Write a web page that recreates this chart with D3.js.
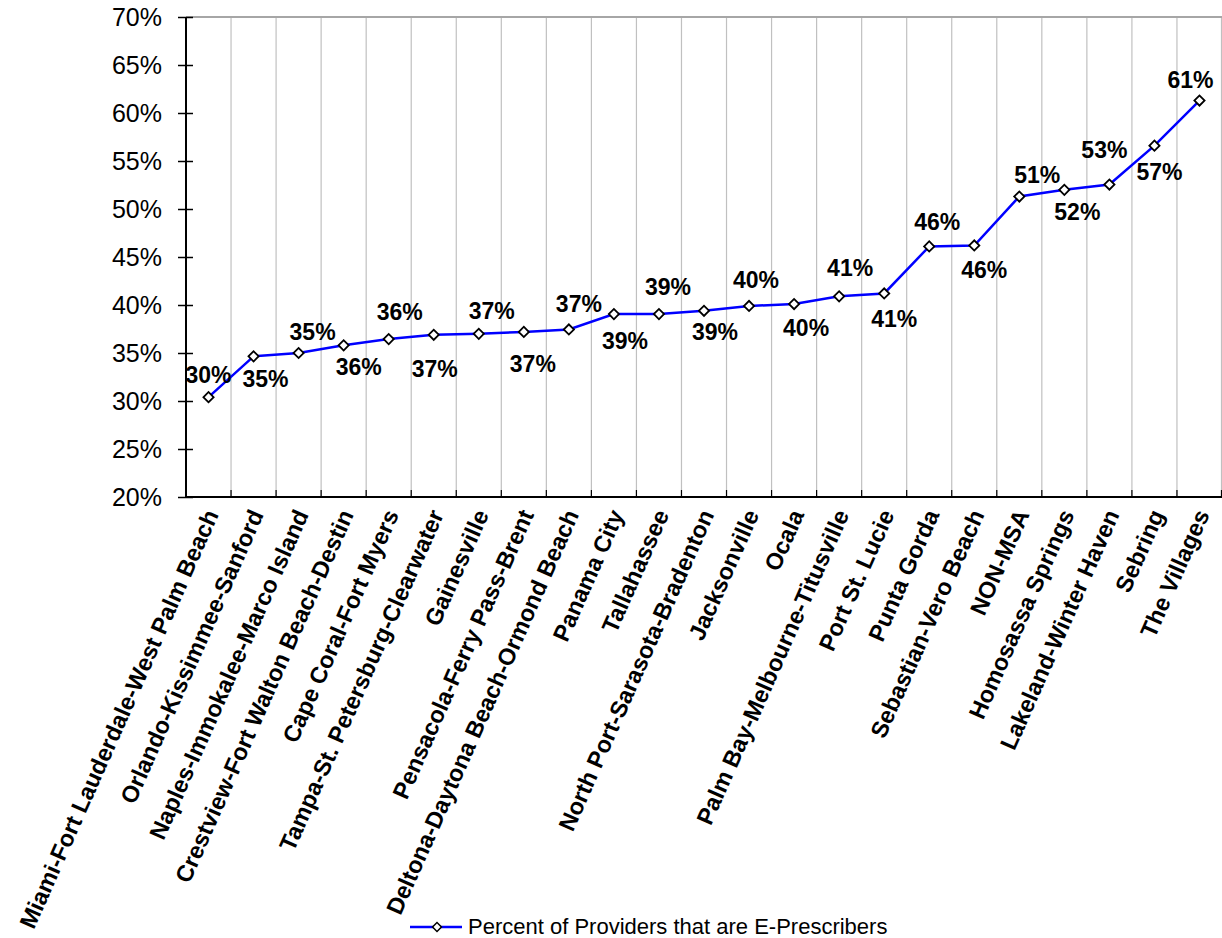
<!DOCTYPE html>
<html>
<head>
<meta charset="utf-8">
<script src="https://cdn.jsdelivr.net/npm/d3@7"></script>
<style>
  body { margin: 0; background: #fff; }
  svg { display: block; }
</style>
</head>
<body>
<svg id="chart" width="1222" height="938"></svg>
<script>
// Metro areas, ordered by share of providers who e-prescribe
const categories = [
  "Miami-Fort Lauderdale-West Palm Beach",
  "Orlando-Kissimmee-Sanford",
  "Naples-Immokalee-Marco Island",
  "Crestview-Fort Walton Beach-Destin",
  "Cape Coral-Fort Myers",
  "Tampa-St. Petersburg-Clearwater",
  "Gainesville",
  "Pensacola-Ferry Pass-Brent",
  "Deltona-Daytona Beach-Ormond Beach",
  "Panama City",
  "Tallahassee",
  "North Port-Sarasota-Bradenton",
  "Jacksonville",
  "Ocala",
  "Palm Bay-Melbourne-Titusville",
  "Port St. Lucie",
  "Punta Gorda",
  "Sebastian-Vero Beach",
  "NON-MSA",
  "Homosassa Springs",
  "Lakeland-Winter Haven",
  "Sebring",
  "The Villages"
];

// Percent of providers that are e-prescribers
const ePrescriberPct = [
  30.4, 34.65, 35.0, 35.8, 36.45, 36.9, 37.0, 37.2, 37.45,
  39.05, 39.05, 39.4, 39.9, 40.1, 40.9, 41.2,
  46.1, 46.2, 51.3, 52.0, 52.55, 56.6, 61.3
];

const yTicks = [20, 25, 30, 35, 40, 45, 50, 55, 60, 65, 70];
const seriesName = "Percent of Providers that are E-Prescribers";

// Hand-placed data label offsets (label centre relative to its marker)
const labelOffsets = [
  [0, -22], [12, 22], [14, -21], [15, 21], [11, -27], [1, 34], [13, -23],
  [9, 32], [10, -26], [11, 27], [9, -27], [11, 21], [7, -26], [12, 24],
  [11, -29], [10, 25], [8, -25], [10, 24], [18, -22], [13, 22], [-5, -35],
  [5, 26], [-9, -21]
];

const svg = d3.select("#chart");
const plot = { left: 186, right: 1222, top: 17, bottom: 497 };
const font = "Arial, 'Liberation Sans', sans-serif";

const x = d3.scaleBand()
  .domain(categories)
  .range([plot.left, plot.right])
  .paddingInner(0)
  .paddingOuter(0);

const y = d3.scaleLinear()
  .domain([20, 70])
  .range([plot.bottom, plot.top]);

const bw = x.bandwidth();
const cx = d => x(d) + bw / 2;

// Vertical gridlines on category boundaries
const boundaries = categories.slice(1).map(c => x(c)).concat([plot.right - 0.5]);
svg.append("g")
  .selectAll("line")
  .data(boundaries)
  .join("line")
  .attr("x1", d => d).attr("x2", d => d)
  .attr("y1", plot.top).attr("y2", plot.bottom)
  .attr("stroke", "#c0c0c0")
  .attr("stroke-width", 1.2);

// Top border of plot area
svg.append("line")
  .attr("x1", plot.left).attr("x2", plot.right)
  .attr("y1", plot.top).attr("y2", plot.top)
  .attr("stroke", "#a6a6a6")
  .attr("stroke-width", 2);

// Bottom axis ticks (pointing up into the plot)
svg.append("g")
  .selectAll("line")
  .data(boundaries)
  .join("line")
  .attr("x1", d => d).attr("x2", d => d)
  .attr("y1", plot.bottom - 7).attr("y2", plot.bottom)
  .attr("stroke", "#000")
  .attr("stroke-width", 1.2);

// Y axis
const yAxis = d3.axisLeft(y)
  .tickValues(yTicks)
  .tickFormat(d => d + "%")
  .tickSize(8)
  .tickPadding(16);

const yg = svg.append("g")
  .attr("transform", `translate(${plot.left},0)`)
  .call(yAxis);
yg.select(".domain").remove();
yg.selectAll(".tick line").attr("stroke", "#000").attr("stroke-width", 1.5);
yg.selectAll(".tick").append("line")
  .attr("x1", 0).attr("x2", 7)
  .attr("stroke", "#000").attr("stroke-width", 1.5);
yg.selectAll(".tick text")
  .attr("font-family", font)
  .attr("font-size", 25)
  .attr("fill", "#000");

svg.append("line")
  .attr("x1", plot.left).attr("x2", plot.left)
  .attr("y1", plot.top).attr("y2", plot.bottom + 1)
  .attr("stroke", "#000").attr("stroke-width", 2);

svg.append("line")
  .attr("x1", plot.left).attr("x2", plot.right)
  .attr("y1", plot.bottom).attr("y2", plot.bottom)
  .attr("stroke", "#000").attr("stroke-width", 2);

// Category labels, rotated
svg.append("g")
  .selectAll("text")
  .data(categories)
  .join("text")
  .attr("transform", d => `translate(${cx(d) + 3},511) rotate(-66)`)
  .attr("text-anchor", "end")
  .attr("dy", "0.35em")
  .attr("font-family", font)
  .attr("font-weight", "bold")
  .attr("font-size", 23.5)
  .attr("fill", "#000")
  .text(d => d);

// Series line
const line = d3.line()
  .x((d, i) => cx(categories[i]))
  .y(d => y(d));

svg.append("path")
  .datum(ePrescriberPct)
  .attr("d", line)
  .attr("fill", "none")
  .attr("stroke", "#0000ff")
  .attr("stroke-width", 2.5);

// Diamond markers
svg.append("g")
  .selectAll("path")
  .data(ePrescriberPct)
  .join("path")
  .attr("transform", (d, i) => `translate(${cx(categories[i])},${y(d)}) rotate(45)`)
  .attr("d", d3.symbol().type(d3.symbolSquare).size(52))
  .attr("fill", "#fff")
  .attr("stroke", "#000")
  .attr("stroke-width", 1.8);

// Data labels
svg.append("g")
  .selectAll("text")
  .data(ePrescriberPct)
  .join("text")
  .attr("x", (d, i) => cx(categories[i]) + labelOffsets[i][0])
  .attr("y", (d, i) => y(d) + labelOffsets[i][1])
  .attr("dy", "0.36em")
  .attr("text-anchor", "middle")
  .attr("font-family", font)
  .attr("font-weight", "bold")
  .attr("font-size", 23)
  .attr("fill", "#000")
  .text(d => Math.round(d) + "%");

// Legend
const legend = svg.append("g").attr("transform", "translate(410,927)");
legend.append("line")
  .attr("x1", 0).attr("x2", 52)
  .attr("y1", 0).attr("y2", 0)
  .attr("stroke", "#0000ff").attr("stroke-width", 2.5);
legend.append("path")
  .attr("transform", "translate(27,0) rotate(45)")
  .attr("d", d3.symbol().type(d3.symbolSquare).size(40))
  .attr("fill", "#fff")
  .attr("stroke", "#000")
  .attr("stroke-width", 1.5);
legend.append("text")
  .attr("x", 58)
  .attr("y", 7)
  .attr("font-family", font)
  .attr("font-size", 22)
  .attr("fill", "#000")
  .text(seriesName);
</script>
</body>
</html>
